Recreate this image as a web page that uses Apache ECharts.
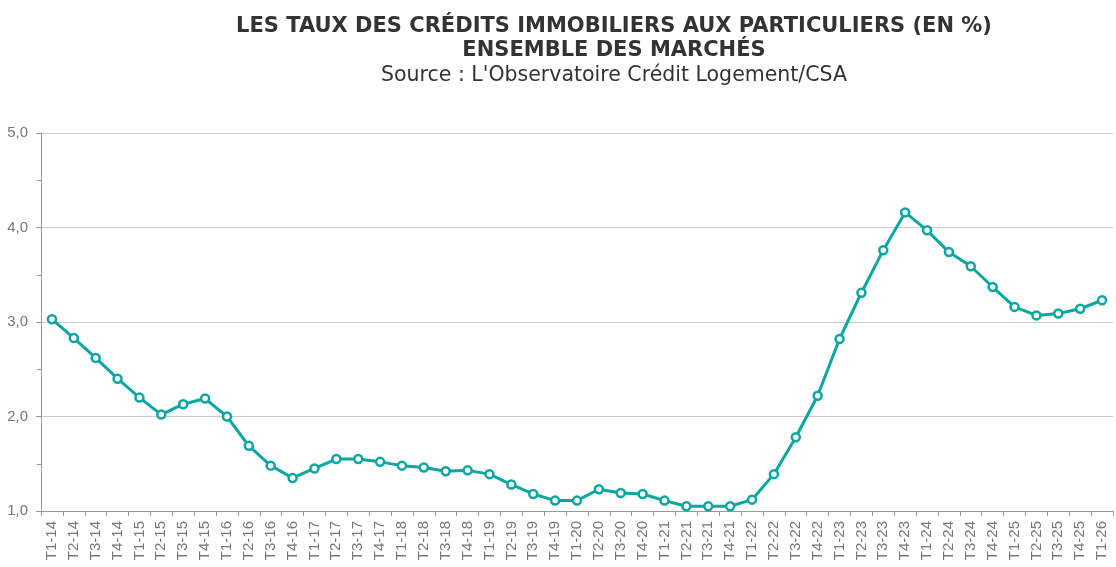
<!DOCTYPE html>
<html>
<head>
<meta charset="utf-8">
<title>Taux des crédits immobiliers</title>
<script src="https://cdn.jsdelivr.net/npm/echarts@6/dist/echarts.min.js"></script>
<style>
  html, body { margin: 0; padding: 0; background: #fff; }
  #main { width: 1116px; height: 567px; }
</style>
</head>
<body>
<div id="main"></div>
<script>
// trimestres T1-14 ... T1-26
var years = ['14', '15', '16', '17', '18', '19', '20', '21', '22', '23', '24', '25'];
var quarters = ['T1', 'T2', 'T3', 'T4'];
var categories = [];
years.forEach(function (y) {
  quarters.forEach(function (q) { categories.push(q + '-' + y); });
});
categories.push('T1-26');

// taux moyen, ensemble des marchés (%)
var taux = [
  3.03, 2.83, 2.62, 2.40,
  2.20, 2.02, 2.13, 2.19,
  2.00, 1.69, 1.48, 1.35,
  1.45, 1.55, 1.55, 1.52,
  1.48, 1.46, 1.42, 1.43,
  1.39, 1.28, 1.18, 1.11,
  1.11, 1.23, 1.19, 1.18,
  1.11, 1.05, 1.05, 1.05,
  1.12, 1.39, 1.78, 2.22,
  2.82, 3.31, 3.76, 4.16,
  3.97, 3.74, 3.59, 3.37,
  3.16, 3.07, 3.09, 3.14,
  3.23
];

var yTicks = [1, 5, 1]; // min, max, pas

var titleFont = 'DejaVu Sans';
var axisFont = 'Liberation Sans';

var myChart = echarts.init(document.getElementById('main'));

var option = {
  animation: false,
  title: [
    {
      text: 'LES TAUX DES CRÉDITS IMMOBILIERS AUX PARTICULIERS (EN %)',
      left: 614, top: 16.5, textAlign: 'center', padding: 0,
      textStyle: { fontFamily: titleFont, fontSize: 21, fontWeight: 'bold', color: '#333' }
    },
    {
      text: 'ENSEMBLE DES MARCHÉS',
      left: 614, top: 40, textAlign: 'center', padding: 0,
      textStyle: { fontFamily: titleFont, fontSize: 21, fontWeight: 'bold', color: '#333' }
    },
    {
      text: "Source : L'Observatoire Crédit Logement/CSA",
      left: 614, top: 65.5, textAlign: 'center', padding: 0,
      textStyle: { fontFamily: titleFont, fontSize: 20.5, fontWeight: 'normal', color: '#333' }
    }
  ],
  grid: { left: 41, right: 3, top: 133, bottom: 56 },
  xAxis: {
    type: 'category',
    data: categories,
    boundaryGap: true,
    axisLine: { lineStyle: { color: '#999', width: 1 } },
    axisTick: { show: true, length: 5, interval: 0, lineStyle: { color: '#999' } },
    axisLabel: {
      interval: 0, rotate: 90, margin: 10,
      fontFamily: axisFont, fontSize: 15, color: '#777'
    },
    splitLine: { show: false }
  },
  yAxis: {
    type: 'value',
    min: yTicks[0], max: yTicks[1], interval: yTicks[2],
    axisLine: { show: true, lineStyle: { color: '#999', width: 1 } },
    axisTick: { show: true, length: 5, lineStyle: { color: '#999' } },
    minorTick: { show: true, splitNumber: 2, length: 4, lineStyle: { color: '#999' } },
    axisLabel: {
      margin: 13, fontFamily: axisFont, fontSize: 15, color: '#777',
      formatter: function (v) { return v.toFixed(1).replace('.', ','); }
    },
    splitLine: { lineStyle: { color: '#ccc', width: 1 } }
  },
  series: [{
    name: 'Taux',
    type: 'line',
    data: taux,
    symbol: 'circle',
    symbolSize: 8,
    showAllSymbol: true,
    lineStyle: { color: '#0aa6a0', width: 3 },
    itemStyle: { color: '#fff', borderColor: '#0aa6a0', borderWidth: 2.5 }
  }]
};

myChart.setOption(option);
</script>
</body>
</html>
